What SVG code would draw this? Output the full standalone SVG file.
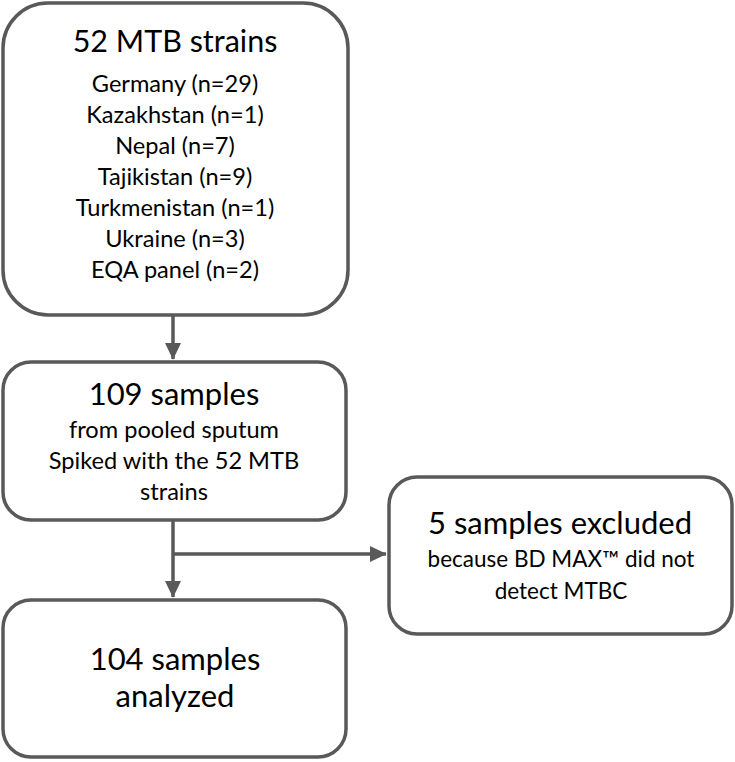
<svg xmlns="http://www.w3.org/2000/svg" width="735" height="762" viewBox="0 0 735 762">
<defs>
<style>
.box{fill:#fff;stroke:#595959;stroke-width:3.5}
.t{font-family:Lato,"Open Sans","Liberation Sans",sans-serif;fill:#000;text-anchor:middle}
.h{font-size:31px}
.s{font-size:23.6px}
.r{font-size:22.5px}
.c{stroke:#595959;stroke-width:3.5;fill:none}
</style>
<marker id="ah" markerWidth="6" markerHeight="5" refX="4.6" refY="2.3" orient="auto" markerUnits="strokeWidth">
<path d="M0,0 L4.8,2.3 L0,4.6 z" fill="#595959"/>
</marker>
</defs>
<rect width="735" height="762" fill="#fff"/>
<g id="connectors">
<line class="c" x1="173" y1="316" x2="173" y2="359" marker-end="url(#ah)"/>
<line class="c" x1="173" y1="521" x2="173" y2="597" marker-end="url(#ah)"/>
<line class="c" x1="173" y1="554" x2="386" y2="554" marker-end="url(#ah)"/>
</g>
<g id="node-strains">
<rect class="box" x="3" y="3" width="345" height="312" rx="45" ry="45"/>
<text class="t" x="175" y="52" style="font-size:30.5px">52 MTB strains</text>
<text class="t s" x="175" y="92">Germany (n=29)</text>
<text class="t s" x="175" y="123">Kazakhstan (n=1)</text>
<text class="t s" x="175" y="154">Nepal (n=7)</text>
<text class="t s" x="175" y="185">Tajikistan (n=9)</text>
<text class="t s" x="175" y="216">Turkmenistan (n=1)</text>
<text class="t s" x="175" y="247">Ukraine (n=3)</text>
<text class="t s" x="175" y="278">EQA panel (n=2)</text>
</g>
<g id="node-samples">
<rect class="box" x="3" y="362" width="343" height="158" rx="28" ry="28"/>
<text class="t h" x="174" y="405">109 samples</text>
<text class="t s" x="174" y="438">from pooled sputum</text>
<text class="t s" x="174" y="469">Spiked with the 52 MTB</text>
<text class="t s" x="174" y="500">strains</text>
</g>
<g id="node-excluded">
<rect class="box" x="389" y="477" width="343" height="157" rx="28" ry="28"/>
<text class="t h" x="560" y="534">5 samples excluded</text>
<text class="t r" x="561" y="567">because BD MAX™ did not</text>
<text class="t r" x="561" y="599">detect MTBC</text>
</g>
<g id="node-analyzed">
<rect class="box" x="3" y="600" width="343" height="157" rx="28" ry="28"/>
<text class="t h" x="175" y="670">104 samples</text>
<text class="t h" x="175" y="707">analyzed</text>
</g>
</svg>
